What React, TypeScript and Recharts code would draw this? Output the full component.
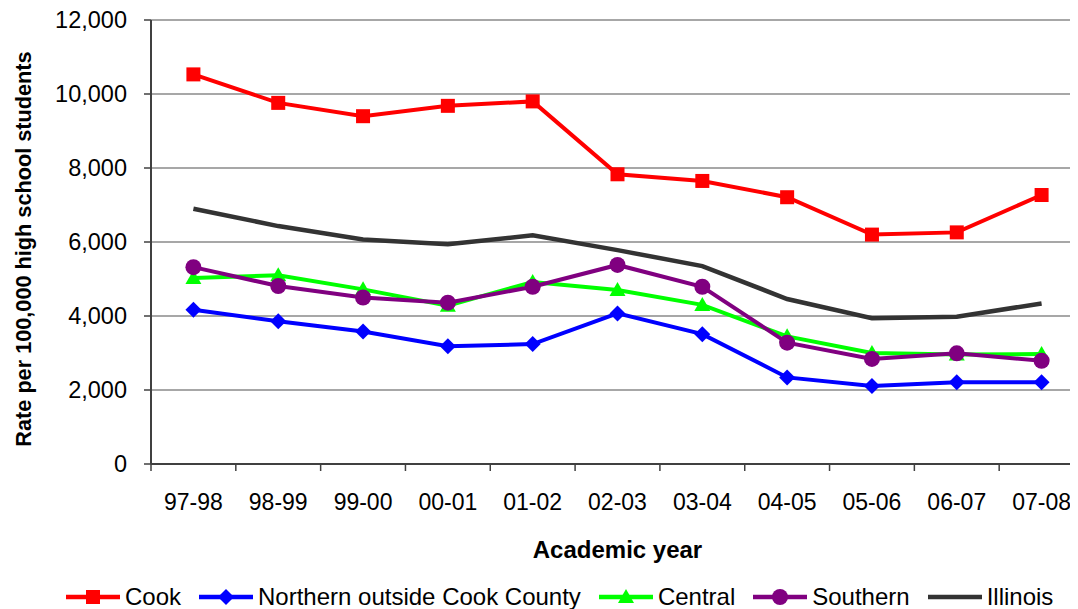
import React from "react";
import { LineChart, Line, XAxis, YAxis, CartesianGrid, Label } from "recharts";

const years = ["97-98", "98-99", "99-00", "00-01", "01-02", "02-03", "03-04", "04-05", "05-06", "06-07", "07-08"];
const cook = [10530, 9760, 9400, 9680, 9800, 7830, 7650, 7210, 6200, 6260, 7270];
const northern = [4170, 3860, 3580, 3180, 3240, 4070, 3510, 2340, 2110, 2210, 2210];
const central = [5030, 5100, 4720, 4280, 4920, 4700, 4300, 3450, 3000, 2960, 2970];
const southern = [5320, 4810, 4500, 4360, 4790, 5380, 4790, 3280, 2840, 2990, 2790];
const illinois = [6900, 6430, 6070, 5940, 6180, 5780, 5350, 4460, 3940, 3980, 4340];
const yTicks = [0, 2000, 4000, 6000, 8000, 10000, 12000];

const FONT = "'Liberation Sans', Arial, Helvetica, sans-serif";
const W = 1090;
const H = 601;
const M = { top: 12, right: 14, left: 0, bottom: 48 };
const Y_W = 143;
const STEP = (W - M.left - M.right - Y_W) / years.length;
const AXIS = "#404040";

const data = years.map((year, i) => ({
  x: i + 0.5,
  year,
  cook: cook[i],
  northern: northern[i],
  central: central[i],
  southern: southern[i],
  illinois: illinois[i],
}));

type Shape = "square" | "diamond" | "triangle" | "circle" | "none";

function Marker({ cx, cy, shape, color }: { cx: number; cy: number; shape: Shape; color: string }) {
  if (cx == null || cy == null) return null;
  if (shape === "square") return <rect x={cx - 7} y={cy - 7} width={14} height={14} fill={color} />;
  if (shape === "diamond")
    return <path d={`M${cx},${cy - 8} L${cx + 8},${cy} L${cx},${cy + 8} L${cx - 8},${cy} Z`} fill={color} />;
  if (shape === "triangle")
    return <path d={`M${cx},${cy - 8} L${cx + 8},${cy + 6} L${cx - 8},${cy + 6} Z`} fill={color} />;
  if (shape === "circle") return <circle cx={cx} cy={cy} r={8} fill={color} />;
  return null;
}

const series: { key: string; name: string; color: string; shape: Shape; width: number }[] = [
  { key: "cook", name: "Cook", color: "#ff0000", shape: "square", width: 4 },
  { key: "northern", name: "Northern outside Cook County", color: "#0000ff", shape: "diamond", width: 4 },
  { key: "central", name: "Central", color: "#00ff00", shape: "triangle", width: 4 },
  { key: "southern", name: "Southern", color: "#800080", shape: "circle", width: 4 },
  { key: "illinois", name: "Illinois", color: "#333333", shape: "none", width: 4.5 },
];

function XTick(props: any) {
  const { x, y, payload } = props;
  const v = payload.value;
  if (v >= years.length) return <g />;
  return (
    <text x={x + STEP / 2} y={y + 39} textAnchor="middle" fontFamily={FONT} fontSize={23} fill="#000">
      {years[v]}
    </text>
  );
}

function LegendIcon({ color, shape }: { color: string; shape: Shape }) {
  return (
    <svg width={54} height={20} style={{ display: "block" }}>
      <line x1={0} y1={10} x2={54} y2={10} stroke={color} strokeWidth={4.5} />
      <Marker cx={27} cy={10} shape={shape} color={color} />
    </svg>
  );
}

export default function App() {
  return (
    <div style={{ position: "relative", width: 1070, height: H, overflow: "hidden", fontFamily: FONT }}>
      <LineChart width={W} height={H} data={data} margin={M}>
        <CartesianGrid vertical={false} stroke="#8a8a8a" strokeWidth={1.5} />
        <XAxis
          dataKey="x"
          type="number"
          domain={[0, years.length]}
          ticks={Array.from({ length: years.length + 1 }, (_, i) => i)}
          interval={0}
          height={97}
          tickSize={7}
          tickMargin={0}
          axisLine={{ stroke: AXIS, strokeWidth: 2 }}
          tickLine={{ stroke: AXIS, strokeWidth: 1.5 }}
          tick={<XTick />}
        >
          <Label
            content={(p: any) => {
              const vb = p.viewBox;
              return (
                <text x={vb.x + vb.width / 2} y={550} textAnchor="middle" fontFamily={FONT} fontSize={24} fontWeight="bold" fill="#000">
                  Academic year
                </text>
              );
            }}
          />
        </XAxis>
        <YAxis
          width={Y_W}
          domain={[0, 12000]}
          ticks={yTicks}
          interval={0}
          tickSize={7}
          tickMargin={17}
          tickFormatter={(v: number) => v.toLocaleString("en-US")}
          tick={{ fontFamily: FONT, fontSize: 23.5, fill: "#000" }}
          axisLine={{ stroke: AXIS, strokeWidth: 2 }}
          tickLine={{ stroke: AXIS, strokeWidth: 1.5 }}
        >
          <Label
            content={(p: any) => {
              const vb = p.viewBox;
              const cy = vb.y + vb.height / 2 + 7;
              return (
                <text
                  x={23}
                  y={cy}
                  transform={`rotate(-90, 23, ${cy})`}
                  textAnchor="middle"
                  fontFamily={FONT}
                  fontSize={21.7}
                  fontWeight="bold"
                  fill="#000"
                >
                  Rate per 100,000 high school students
                </text>
              );
            }}
          />
        </YAxis>
        {series.map((s) => (
          <Line
            key={s.key}
            dataKey={s.key}
            name={s.name}
            stroke={s.color}
            strokeWidth={s.width}
            isAnimationActive={false}
            activeDot={false}
            dot={
              s.shape === "none"
                ? false
                : (p: any) => <Marker key={`${s.key}-${p.index}`} cx={p.cx} cy={p.cy} shape={s.shape} color={s.color} />
            }
          />
        ))}
      </LineChart>
      <div
        style={{
          position: "absolute",
          left: 58,
          top: 577,
          display: "flex",
          alignItems: "center",
          gap: 18,
          fontSize: 24,
          color: "#000",
          whiteSpace: "nowrap",
        }}
      >
        {series.map((s) => (
          <div key={s.key} style={{ display: "flex", alignItems: "center", gap: 5 }}>
            <LegendIcon color={s.color} shape={s.shape} />
            <span style={{ lineHeight: "24px" }}>{s.name}</span>
          </div>
        ))}
      </div>
    </div>
  );
}
